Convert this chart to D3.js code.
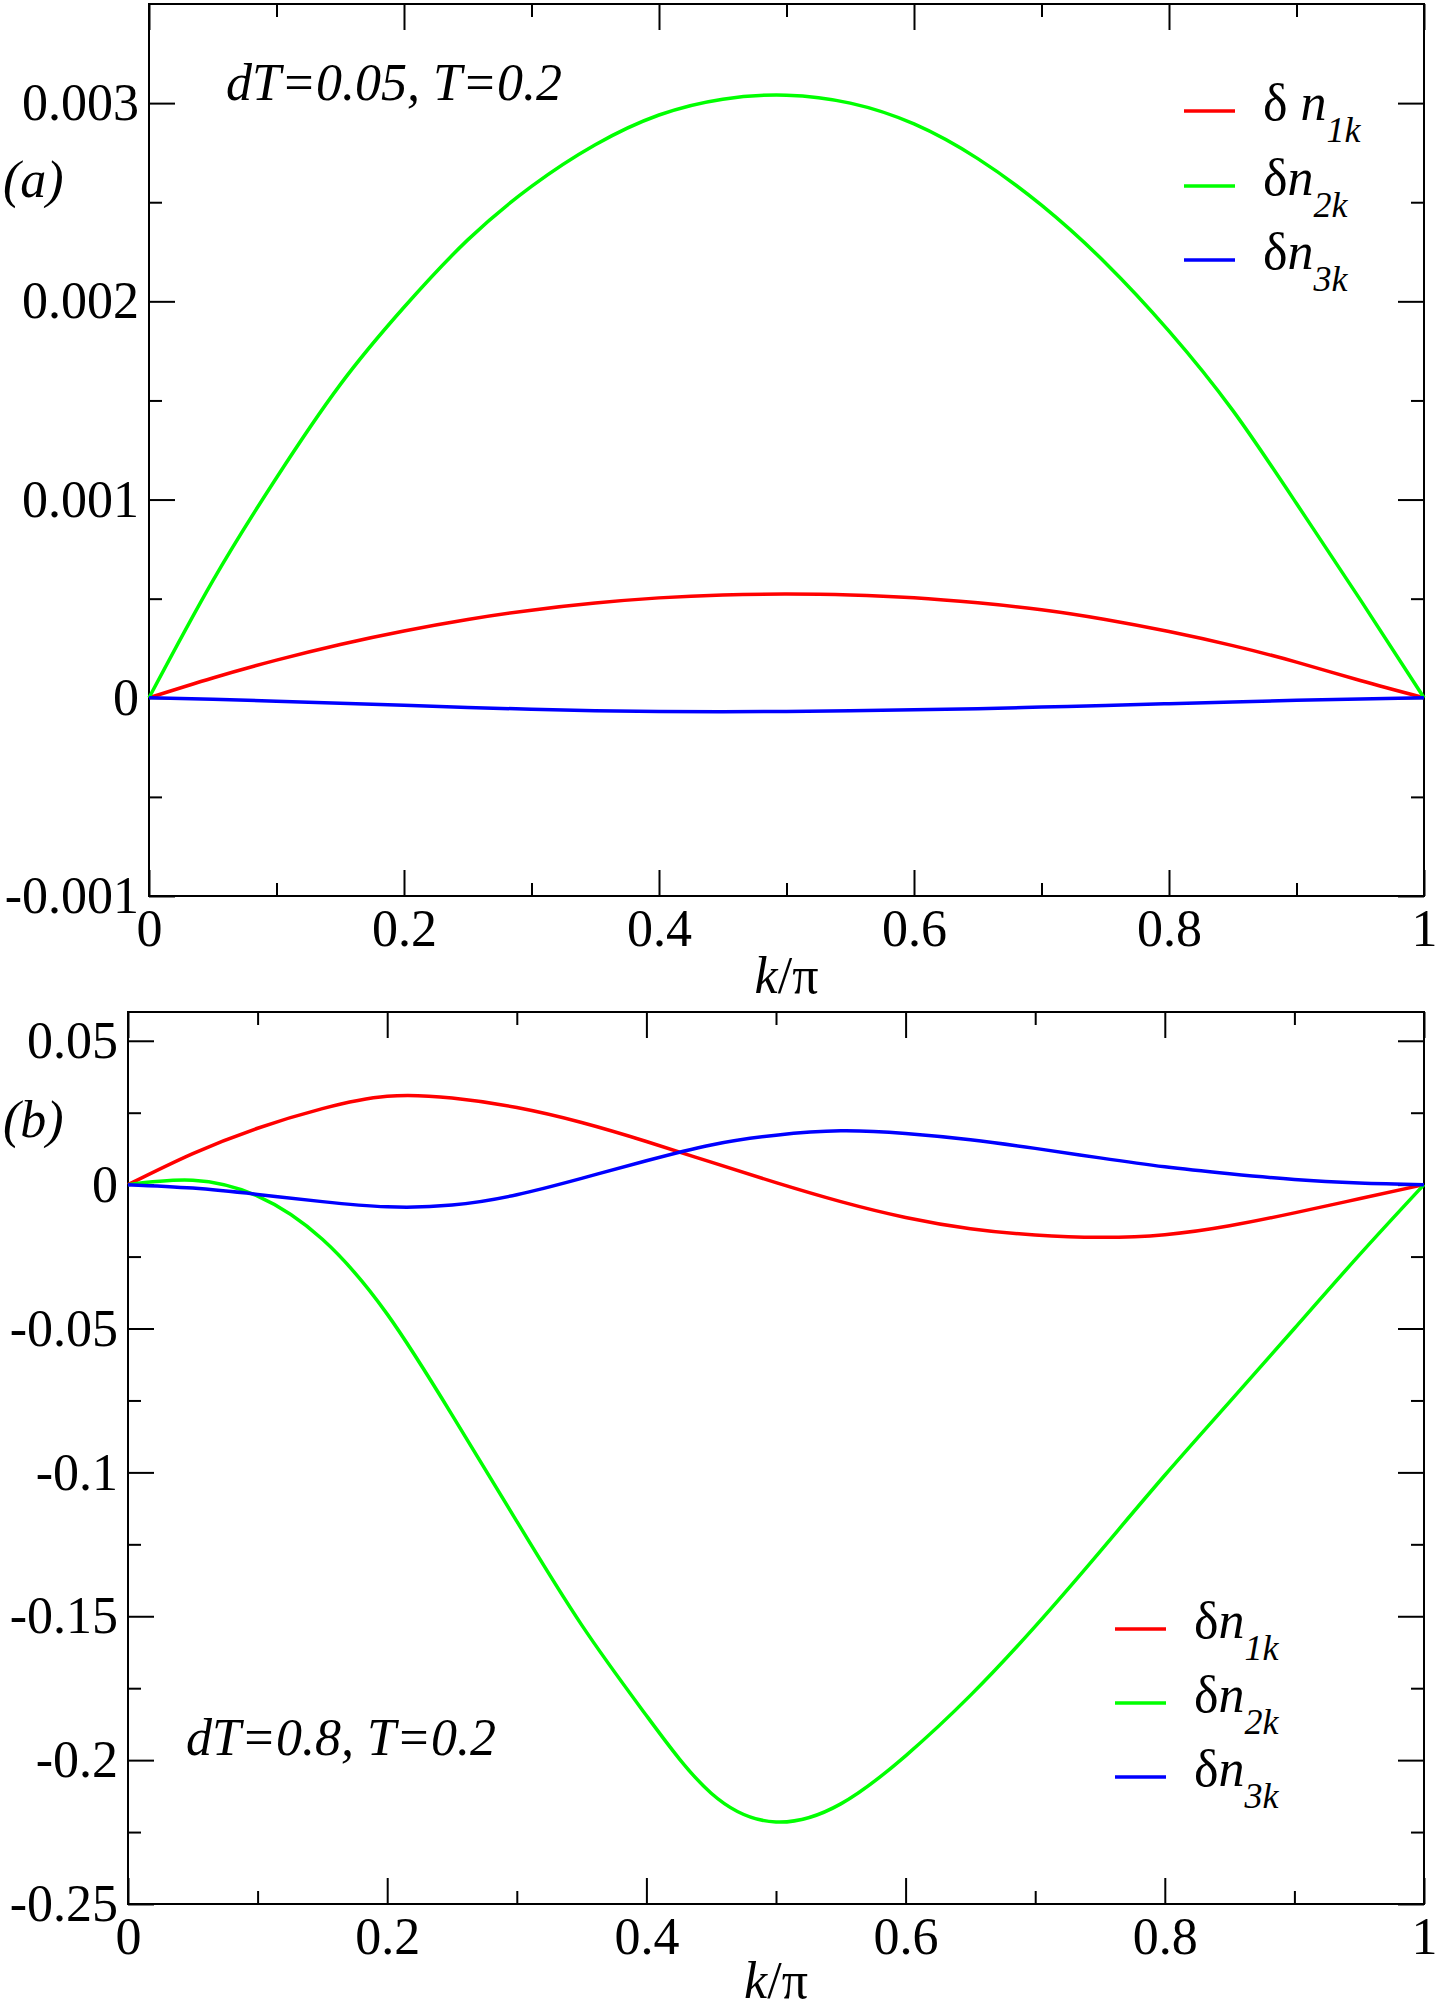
<!DOCTYPE html>
<head>
    <title>delta n_k</title>
    <script src="https://cdn.jsdelivr.net/npm/d3@7"></script>
    <style>
        body { margin: 0; background: #fff; }
        text { font-family: "Liberation Serif", "Times New Roman", serif; }
    </style>
</head>
<body>
<div id="container"></div>
<script>

    // k/pi grid shared by all curves
    const kValues = [0, 0.05, 0.1, 0.15, 0.2, 0.25, 0.3, 0.35, 0.4, 0.45, 0.5,
                     0.55, 0.6, 0.65, 0.7, 0.75, 0.8, 0.85, 0.9, 0.95, 1];

    // panel (a): dT=0.05, T=0.2
    const n1A = [0, 0.0001, 0.00019, 0.000269, 0.000337, 0.000395, 0.000442, 0.000478, 0.000504, 0.000519, 0.000523,
                 0.000519, 0.000505, 0.000479, 0.000444, 0.000395, 0.000334, 0.000263, 0.00018, 0.000087, 0];
    const n2A = [0, 0.00059, 0.00111, 0.00158, 0.00197, 0.00231, 0.00258, 0.00279, 0.00294, 0.00302, 0.00304,
                 0.003, 0.002895, 0.00272, 0.002485, 0.002195, 0.00185, 0.00145, 0.00098, 0.000495, 0];
    const n3A = [0, -0.000008, -0.000017, -0.000027, -0.000038, -0.000049, -0.000058, -0.000065, -0.000069, -0.00007, -0.000069,
                 -0.000066, -0.000061, -0.000055, -0.000047, -0.000039, -0.00003, -0.000021, -0.000013, -0.000006, 0];

    // panel (b): dT=0.8, T=0.2
    const n1B = [0, 0.0108, 0.0196, 0.0264, 0.0307, 0.0301, 0.0268, 0.0216, 0.015, 0.0078, 0.0007,
                 -0.0059, -0.0114, -0.0153, -0.0175, -0.0183, -0.0174, -0.0143, -0.0098, -0.0049, 0];
    const n2B = [0, 0.0015, -0.004, -0.019, -0.045, -0.08, -0.117, -0.153, -0.1845, -0.2115, -0.2215,
                 -0.2152, -0.1985, -0.1775, -0.1535, -0.1275, -0.101, -0.0755, -0.05, -0.0245, 0];
    const n3B = [0, -0.0012, -0.0034, -0.0059, -0.0077, -0.0071, -0.0035, 0.0022, 0.0083, 0.0138, 0.0172,
                 0.0187, 0.0178, 0.0156, 0.0126, 0.0093, 0.0062, 0.0038, 0.0018, 0.0006, 0];

    // ticks
    const xTicks = [0, 0.2, 0.4, 0.6, 0.8, 1];
    const xTickLabels = ["0", "0.2", "0.4", "0.6", "0.8", "1"];
    const xMinor = [0.1, 0.3, 0.5, 0.7, 0.9];
    const yTicksA = [-0.001, 0, 0.001, 0.002, 0.003];
    const yTickLabelsA = ["-0.001", "0", "0.001", "0.002", "0.003"];
    const yMinorA = [-0.0005, 0.0005, 0.0015, 0.0025];
    const yTicksB = [-0.25, -0.2, -0.15, -0.1, -0.05, 0, 0.05];
    const yTickLabelsB = ["-0.25", "-0.2", "-0.15", "-0.1", "-0.05", "0", "0.05"];
    const yMinorB = [-0.225, -0.175, -0.125, -0.075, -0.025, 0.025];

    const colors = ["#ff0000", "#00ff00", "#0000ff"];
    const subs = ["1k", "2k", "3k"];

    const width = 1438;
    const height = 2009;
    const fontSize = 52;
    const serif = "'Liberation Serif', 'Times New Roman', serif";

    const svg = d3.select("#container")
        .append("svg")
        .attr("width", width)
        .attr("height", height);

    function drawPanel(p) {
        const x = d3.scaleLinear().domain([0, 1]).range([p.left, p.right]);
        const y = d3.scaleLinear().domain(p.yDomain).range([p.bottom, p.top]);
        const g = svg.append("g");

        // major and minor ticks on the four sides, all pointing inward
        const axes = [
            { a: d3.axisBottom(x).tickValues(xTicks).tickSize(-26).tickPadding(13).tickFormat((d, i) => xTickLabels[i]), t: `translate(0,${p.bottom})` },
            { a: d3.axisBottom(x).tickValues(xMinor).tickSize(-13).tickFormat(""), t: `translate(0,${p.bottom})` },
            { a: d3.axisTop(x).tickValues(xTicks).tickSize(-26).tickFormat(""), t: `translate(0,${p.top})` },
            { a: d3.axisTop(x).tickValues(xMinor).tickSize(-13).tickFormat(""), t: `translate(0,${p.top})` },
            { a: d3.axisLeft(y).tickValues(p.yTicks).tickSize(-26).tickPadding(10).tickFormat((d, i) => p.yLabels[i]), t: `translate(${p.left},0)` },
            { a: d3.axisLeft(y).tickValues(p.yMinor).tickSize(-13).tickFormat(""), t: `translate(${p.left},0)` },
            { a: d3.axisRight(y).tickValues(p.yTicks).tickSize(-26).tickFormat(""), t: `translate(${p.right},0)` },
            { a: d3.axisRight(y).tickValues(p.yMinor).tickSize(-13).tickFormat(""), t: `translate(${p.right},0)` }
        ];
        axes.forEach(ax => {
            const ag = g.append("g").attr("transform", ax.t).call(ax.a);
            ag.attr("font-family", null);
            ag.select(".domain").remove();
            ag.selectAll("line").attr("stroke", "black").attr("stroke-width", 2);
            ag.selectAll("text")
                .style("font-family", serif)
                .attr("font-size", fontSize)
                .attr("fill", "black");
        });

        // frame
        g.append("rect")
            .attr("x", p.left)
            .attr("y", p.top)
            .attr("width", p.right - p.left)
            .attr("height", p.bottom - p.top)
            .attr("fill", "none")
            .attr("stroke", "black")
            .attr("stroke-width", 2);

        // curves (natural spline through the read-off points)
        const line = d3.line()
            .x((d, i) => x(kValues[i]))
            .y(d => y(d))
            .curve(d3.curveNatural);

        p.series.forEach((s, i) => {
            g.append("path")
                .datum(s)
                .attr("d", line)
                .attr("fill", "none")
                .attr("stroke", colors[i])
                .attr("stroke-width", 3.5);
        });

        // x axis title
        const title = g.append("text")
            .attr("x", (p.left + p.right) / 2)
            .attr("y", p.titleY)
            .attr("text-anchor", "middle")
            .attr("font-size", fontSize);
        title.append("tspan").attr("font-style", "italic").text("k");
        title.append("tspan").text("/π");

        // panel letter
        g.append("text")
            .attr("x", 3)
            .attr("y", p.letterY)
            .attr("font-size", fontSize)
            .attr("font-style", "italic")
            .text(p.letter);

        // parameters
        g.append("text")
            .attr("x", p.noteX)
            .attr("y", p.noteY)
            .attr("font-size", fontSize)
            .attr("font-style", "italic")
            .text(p.note);

        // legend
        p.legendRows.forEach((ly, i) => {
            g.append("line")
                .attr("x1", p.legendX)
                .attr("x2", p.legendX + 51)
                .attr("y1", ly)
                .attr("y2", ly)
                .attr("stroke", colors[i])
                .attr("stroke-width", 3.5);
            const t = g.append("text")
                .attr("x", p.legendX + 79)
                .attr("y", ly + 9)
                .attr("font-size", fontSize);
            t.append("tspan").text(p.legendGap[i] ? "δ " : "δ");
            t.append("tspan").attr("font-style", "italic").text("n");
            t.append("tspan")
                .attr("font-style", "italic")
                .attr("font-size", 36)
                .attr("dy", 22)
                .text(subs[i]);
        });
    }

    drawPanel({
        left: 149, right: 1424, top: 4, bottom: 896,
        yDomain: [-0.001, 0.0035],
        yTicks: yTicksA, yLabels: yTickLabelsA, yMinor: yMinorA,
        series: [n1A, n2A, n3A],
        titleY: 993,
        letter: "(a)", letterY: 197,
        note: "dT=0.05, T=0.2", noteX: 226, noteY: 100,
        legendX: 1184, legendRows: [111, 186, 260], legendGap: [true, false, false]
    });

    drawPanel({
        left: 128, right: 1424, top: 1012, bottom: 1904,
        yDomain: [-0.25, 0.06],
        yTicks: yTicksB, yLabels: yTickLabelsB, yMinor: yMinorB,
        series: [n1B, n2B, n3B],
        titleY: 1998,
        letter: "(b)", letterY: 1137,
        note: "dT=0.8, T=0.2", noteX: 186, noteY: 1755,
        legendX: 1115, legendRows: [1629, 1703, 1777], legendGap: [false, false, false]
    });

</script>
</body>
